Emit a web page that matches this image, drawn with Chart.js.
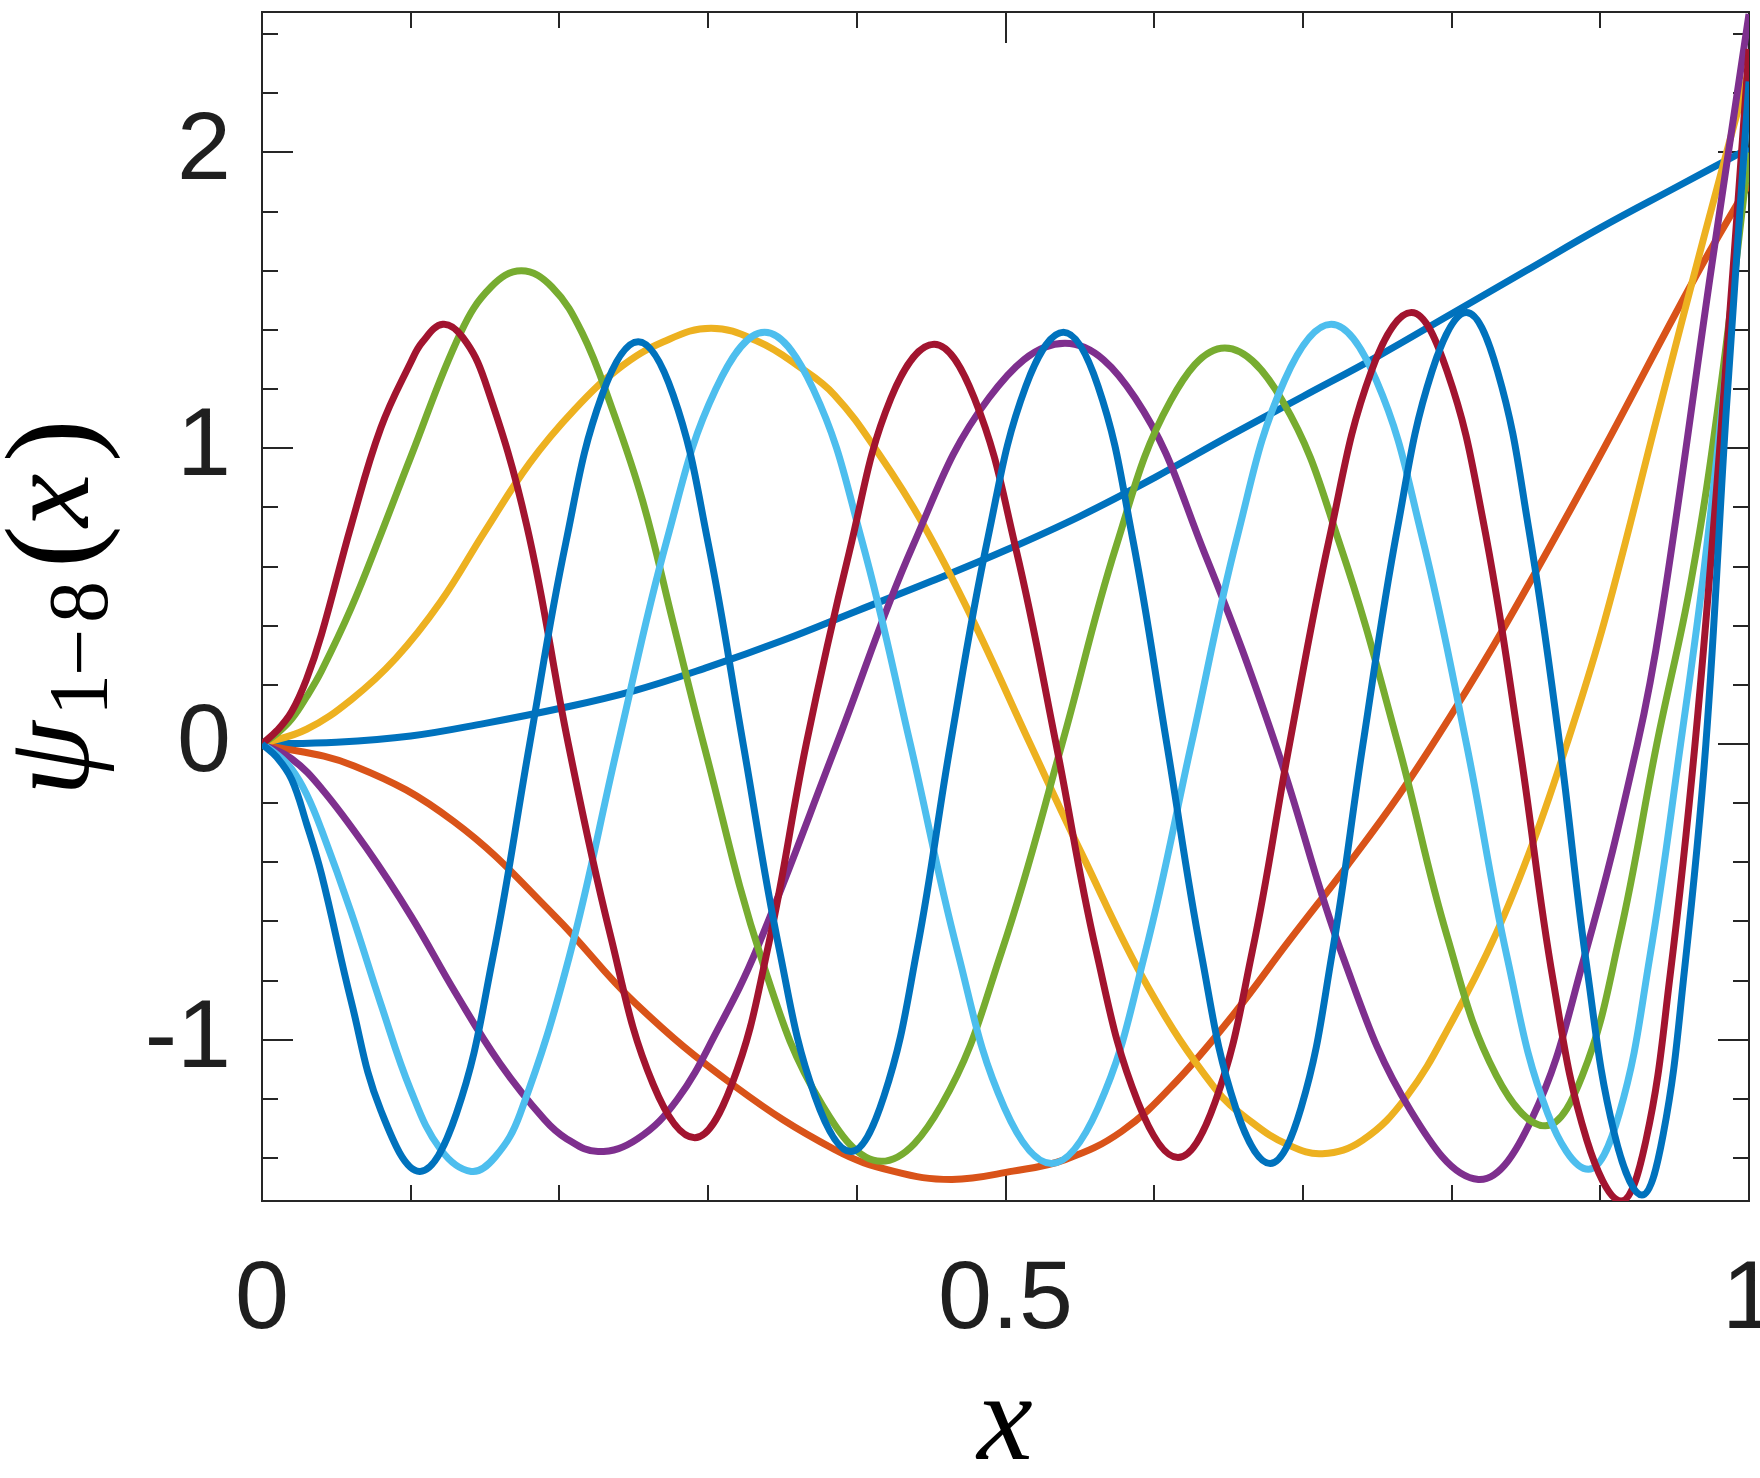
<!DOCTYPE html>
<html>
<head>
<meta charset="utf-8">
<script src="https://cdn.jsdelivr.net/npm/chart.js@4.4.1/dist/chart.umd.min.js"></script>
<style>
html, body { margin: 0; padding: 0; background: #fff; }
canvas { display: block; }
</style>
</head>
<body>
<canvas id="chart" width="1760" height="1478"></canvas>
<script>
// psi_n(x) as [x, y] pairs
var psi1 = [[0,0],[0.05,0.006],[0.1,0.027],[0.15,0.07],[0.2,0.12],[0.25,0.18],[0.3,0.26],[0.35,0.35],[0.4,0.45],[0.45,0.55],[0.5,0.655],[0.55,0.77],[0.6,0.9],[0.65,1.04],[0.7,1.175],[0.75,1.31],[0.8,1.455],[0.85,1.6],[0.9,1.745],[0.95,1.88],[1,2.014]];
var psi2 = [[0,0],[0.062,-0.074],[0.129,-0.262],[0.197,-0.582],[0.251,-0.876],[0.318,-1.157],[0.385,-1.371],[0.425,-1.445],[0.464,-1.472],[0.505,-1.444],[0.54,-1.405],[0.578,-1.31],[0.615,-1.14],[0.654,-0.91],[0.69,-0.67],[0.73,-0.41],[0.765,-0.17],[0.8,0.1],[0.836,0.4],[0.896,0.94],[0.964,1.58],[1,1.894]];
var psi3 = [[0,0],[0.03,0.05],[0.06,0.15],[0.09,0.29],[0.12,0.48],[0.15,0.72],[0.18,0.95],[0.21,1.13],[0.24,1.27],[0.27,1.36],[0.302,1.406],[0.334,1.36],[0.36,1.28],[0.385,1.18],[0.415,0.98],[0.445,0.74],[0.477,0.43],[0.5166,0],[0.551,-0.368],[0.596,-0.823],[0.641,-1.165],[0.666,-1.28],[0.69,-1.355],[0.713,-1.385],[0.74,-1.34],[0.77,-1.19],[0.8,-0.94],[0.83,-0.64],[0.855,-0.33],[0.8775,0],[0.903,0.419],[0.94,1.14],[0.97,1.72],[1,2.28]];
var psi4 = [[0,0],[0.02,-0.05],[0.04,-0.15],[0.07,-0.35],[0.1,-0.58],[0.13,-0.84],[0.16,-1.08],[0.19,-1.27],[0.205,-1.335],[0.226,-1.378],[0.2525,-1.335],[0.2795,-1.2],[0.306,-0.97],[0.333,-0.69],[0.3865,0],[0.4377,0.67],[0.4888,1.17],[0.54,1.355],[0.5872,1.17],[0.6343,0.64],[0.6815,0],[0.727,-0.72],[0.7725,-1.24],[0.818,-1.472],[0.8537,-1.27],[0.8893,-0.72],[0.925,0],[0.941,0.43],[0.975,1.62],[1,2.468]];
var psi5 = [[0,0],[0.01,0.035],[0.02,0.085],[0.03,0.16],[0.04,0.247],[0.06,0.46],[0.08,0.71],[0.1,0.97],[0.1335,1.39],[0.154,1.545],[0.1744,1.6],[0.195,1.545],[0.2153,1.39],[0.235,1.14],[0.2561,0.82],[0.2765,0.41],[0.297,0],[0.3368,-0.74],[0.3767,-1.22],[0.4165,-1.411],[0.457,-1.22],[0.4975,-0.7],[0.538,0],[0.5745,0.67],[0.611,1.16],[0.6475,1.339],[0.6863,1.16],[0.7252,0.67],[0.764,0],[0.797,-0.65],[0.83,-1.12],[0.863,-1.291],[0.888,-1.12],[0.913,-0.65],[0.938,0],[0.961,0.55],[0.98,1.17],[1,2.0]];
var psi6 = [[0,0],[0.01,-0.035],[0.02,-0.085],[0.03,-0.17],[0.04,-0.29],[0.06,-0.57],[0.08,-0.88],[0.1,-1.17],[0.12,-1.37],[0.1407,-1.445],[0.157,-1.395],[0.1736,-1.25],[0.2066,-0.72],[0.2395,0],[0.2723,0.69],[0.3052,1.2],[0.338,1.392],[0.3707,1.2],[0.4033,0.69],[0.436,0],[0.4677,-0.7],[0.4993,-1.23],[0.531,-1.418],[0.5623,-1.23],[0.5937,-0.71],[0.625,0],[0.6563,0.71],[0.6877,1.23],[0.719,1.419],[0.7493,1.23],[0.7797,0.71],[0.81,0],[0.8373,-0.72],[0.8647,-1.25],[0.892,-1.438],[0.9127,-1.25],[0.9333,-0.72],[0.954,0],[0.97,0.6],[0.985,1.3],[1,2.2]];
var psi7 = [[0,0],[0.01,0.045],[0.02,0.11],[0.03,0.22],[0.04,0.37],[0.06,0.74],[0.08,1.07],[0.1,1.29],[0.108,1.36],[0.1216,1.419],[0.135,1.375],[0.1497,1.23],[0.178,0.74],[0.206,0],[0.234,-0.64],[0.263,-1.15],[0.291,-1.331],[0.316,-1.15],[0.341,-0.67],[0.366,0],[0.395,0.65],[0.423,1.17],[0.452,1.352],[0.479,1.17],[0.507,0.66],[0.534,0],[0.561,-0.7],[0.589,-1.21],[0.616,-1.398],[0.641,-1.21],[0.666,-0.7],[0.691,0],[0.718,0.7],[0.746,1.26],[0.773,1.459],[0.797,1.26],[0.821,0.76],[0.8455,0],[0.8683,-0.8],[0.891,-1.34],[0.914,-1.545],[0.9307,-1.34],[0.947,-0.78],[0.9637,0],[0.98,0.98],[1,2.35]];
var psi8 = [[0,0],[0.01,-0.045],[0.02,-0.12],[0.03,-0.27],[0.04,-0.44],[0.06,-0.87],[0.08,-1.24],[0.106,-1.445],[0.1307,-1.25],[0.1553,-0.72],[0.18,0],[0.2043,0.68],[0.2287,1.18],[0.253,1.36],[0.2765,1.18],[0.3,0.68],[0.3236,0],[0.3477,-0.69],[0.3718,-1.19],[0.396,-1.378],[0.4183,-1.19],[0.4407,-0.69],[0.463,0],[0.4883,0.7],[0.5137,1.21],[0.539,1.392],[0.5622,1.21],[0.5853,0.7],[0.6085,0],[0.6317,-0.71],[0.6548,-1.23],[0.678,-1.418],[0.6988,-1.23],[0.7196,-0.71],[0.7404,0],[0.7636,0.73],[0.7868,1.26],[0.81,1.459],[0.8309,1.26],[0.8518,0.73],[0.8727,0],[0.8911,-0.76],[0.9096,-1.32],[0.928,-1.525],[0.9423,-1.32],[0.9567,-0.76],[0.971,0],[0.985,1.15],[1,2.24]];

var curves = [psi1, psi2, psi3, psi4, psi5, psi6, psi7, psi8];
var colors = ['#0072BD', '#D95319', '#EDB120', '#7E2F8E', '#77AC30', '#4DBEEE', '#A2142F', '#0072BD'];

// axis ticks
var xLabels = [0, 0.5, 1];
var xTicks = [0, 0.1, 0.2, 0.3, 0.4, 0.5, 0.6, 0.7, 0.8, 0.9, 1];
var yLabels = [-1, 0, 1, 2];
var yTicks = [-1.4, -1.2, -1, -0.8, -0.6, -0.4, -0.2, 0, 0.2, 0.4, 0.6, 0.8, 1, 1.2, 1.4, 1.6, 1.8, 2, 2.2, 2.4];
var xRange = [0, 1];
var yRange = [-1.545, 2.475];

var axisColor = '#262626';

// box + inward ticks on all four sides (drawn under the lines, like matlab)
var frame = {
	id: 'frame',
	beforeDatasetsDraw: function(chart){
		var ctx = chart.ctx, a = chart.chartArea;
		var sx = chart.scales.x, sy = chart.scales.y;
		ctx.save();
		ctx.strokeStyle = axisColor;
		ctx.lineWidth = 2;
		ctx.beginPath();
		xTicks.forEach(function(v){
			var p = Math.round(sx.getPixelForValue(v));
			var len = xLabels.indexOf(v) >= 0 ? 31 : 16;
			ctx.moveTo(p, a.bottom); ctx.lineTo(p, a.bottom - len);
			ctx.moveTo(p, a.top); ctx.lineTo(p, a.top + len);
		});
		yTicks.forEach(function(v){
			var p = Math.round(sy.getPixelForValue(v));
			var len = yLabels.indexOf(v) >= 0 ? 31 : 16;
			ctx.moveTo(a.left, p); ctx.lineTo(a.left + len, p);
			ctx.moveTo(a.right, p); ctx.lineTo(a.right - len, p);
		});
		ctx.stroke();
		ctx.strokeRect(a.left, a.top, a.right - a.left, a.bottom - a.top);
		ctx.restore();
	}
};

// axis titles, latex-ish
var titles = {
	id: 'titles',
	afterDraw: function(chart){
		var ctx = chart.ctx;
		ctx.save();
		ctx.fillStyle = '#000';
		ctx.textBaseline = 'alphabetic';

		ctx.font = 'italic 125px "Liberation Serif"';
		ctx.textAlign = 'center';
		ctx.fillText('x', 1005, 1459);

		ctx.textAlign = 'left';
		ctx.translate(88, 0);
		ctx.rotate(-Math.PI / 2);
		ctx.font = 'italic 120px "Liberation Serif"';
		ctx.fillText('ψ', -796, 0);
		ctx.font = '84px "Liberation Serif"';
		ctx.fillText('1', -716, 19);
		ctx.fillText('−', -676, 19);
		ctx.fillText('8', -623, 19);
		ctx.font = '128px "Liberation Serif"';
		ctx.fillText('(', -568, 5);
		ctx.font = 'italic 120px "Liberation Serif"';
		ctx.fillText('x', -527, 0);
		ctx.font = '128px "Liberation Serif"';
		ctx.fillText(')', -462, 5);
		ctx.restore();
	}
};

var datasets = curves.map(function(c, i){
	return {
		label: 'psi' + (i + 1),
		data: c.map(function(p){ return {x: p[0], y: p[1]}; }),
		borderColor: colors[i],
		backgroundColor: colors[i],
		borderWidth: 7,
		pointRadius: 0,
		fill: false,
		tension: 0.4,
		borderCapStyle: 'butt',
		borderJoinStyle: 'round',
		order: curves.length - i
	};
});

var ctx = document.getElementById('chart').getContext('2d');
var mychart = new Chart(ctx, {
	type: 'line',
	data: { datasets: datasets },
	plugins: [frame, titles],
	options: {
		responsive: false,
		animation: false,
		events: [],
		layout: { padding: { left: 0, right: 11, top: 12, bottom: 0 } },
		plugins: { legend: { display: false }, tooltip: { enabled: false } },
		scales: {
			x: {
				type: 'linear',
				min: xRange[0],
				max: xRange[1],
				grid: { display: false, drawTicks: false },
				border: { display: false },
				afterBuildTicks: function(s){ s.ticks = xLabels.map(function(v){ return {value: v}; }); },
				afterFit: function(s){ s.height = 277; s.paddingLeft = 0; s.paddingRight = 0; },
				ticks: {
					autoSkip: false,
					maxRotation: 0,
					padding: 42,
					color: '#1f1f1f',
					font: { family: '"Liberation Sans", Arial, sans-serif', size: 97 },
					callback: function(v){ return String(v); }
				}
			},
			y: {
				type: 'linear',
				min: yRange[0],
				max: yRange[1],
				grid: { display: false, drawTicks: false },
				border: { display: false },
				afterBuildTicks: function(s){ s.ticks = yLabels.map(function(v){ return {value: v}; }); },
				afterFit: function(s){ s.width = 262; s.paddingTop = 0; s.paddingBottom = 0; },
				ticks: {
					autoSkip: false,
					padding: 31,
					color: '#1f1f1f',
					font: { family: '"Liberation Sans", Arial, sans-serif', size: 97 },
					callback: function(v){ return String(v); }
				}
			}
		}
	}
});
</script>
</body>
</html>
